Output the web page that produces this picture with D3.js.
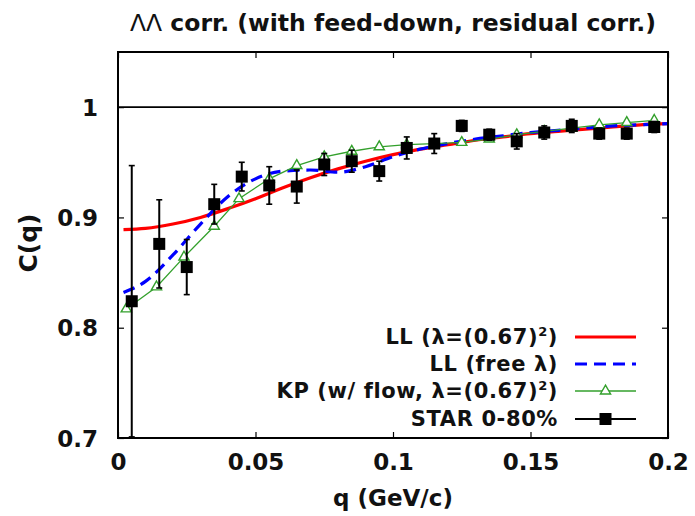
<!DOCTYPE html>
<html><head><meta charset="utf-8">
<script src="https://cdn.jsdelivr.net/npm/d3@7"></script>
<style>
body{margin:0;background:#fff;}
svg text{font-family:"DejaVu Sans",sans-serif;font-weight:bold;fill:#111;}
</style></head>
<body><svg id="c" width="695" height="516"></svg>
<script>
// ---- data ----
const starQ   = [0.005,0.015,0.025,0.035,0.045,0.055,0.065,0.075,0.085,0.095,0.105,0.115,0.125,0.135,0.145,0.155,0.165,0.175,0.185,0.195];
const starC   = [0.824,0.876,0.855,0.912,0.937,0.929,0.928,0.948,0.951,0.942,0.963,0.967,0.983,0.975,0.969,0.977,0.983,0.976,0.976,0.982];
const starErr = [0.123,0.040,0.025,0.018,0.013,0.017,0.015,0.010,0.010,0.009,0.010,0.009,0.005,0.005,0.007,0.006,0.006,0.005,0.005,0.005];

const curveQ  = [0.002,0.01,0.02,0.03,0.04,0.05,0.06,0.07,0.08,0.09,0.10,0.11,0.12,0.13,0.14,0.15,0.16,0.17,0.18,0.19,0.20];
const llFixed = [0.889,0.890,0.894,0.900,0.908,0.917,0.927,0.936,0.944,0.951,0.957,0.962,0.966,0.970,0.973,0.976,0.978,0.980,0.982,0.984,0.985];
const llFree  = [0.832,0.842,0.866,0.894,0.919,0.935,0.942,0.943,0.941,0.946,0.955,0.962,0.967,0.971,0.974,0.977,0.979,0.981,0.983,0.984,0.985];

const kpQ = [0.003,0.014,0.024,0.035,0.044,0.055,0.065,0.075,0.085,0.095,0.105,0.115,0.125,0.135,0.145,0.155,0.165,0.175,0.185,0.195];
const kpC = [0.817,0.837,0.864,0.892,0.917,0.935,0.947,0.955,0.960,0.964,0.966,0.967,0.968,0.971,0.975,0.978,0.981,0.984,0.986,0.988];

const xTicks = [0,0.05,0.1,0.15,0.2];
const xTickLabels = ["0","0.05","0.1","0.15","0.2"];
const yTicks = [0.7,0.8,0.9,1];
const yTickLabels = ["0.7","0.8","0.9","1"];

const titleMain = " corr. (with feed-down, residual corr.)";
const legendLabels = ["LL (λ=(0.67)", "LL (free λ)", "KP (w/ flow, λ=(0.67)", "STAR 0-80%"];

// ---- layout ----
const L=118,R=668,T=52,B=438;
const x=d3.scaleLinear().domain([0,0.2]).range([L,R]);
const y=d3.scaleLinear().domain([0.7,1.05]).range([B,T]);
const svg=d3.select("#c");

svg.append("defs").append("clipPath").attr("id","clip")
  .append("rect").attr("x",L).attr("y",T).attr("width",R-L).attr("height",B-T);

// y=1 line
svg.append("line").attr("x1",L).attr("x2",R).attr("y1",y(1)).attr("y2",y(1))
  .attr("stroke","#000").attr("stroke-width",1.6);

// axes (ticks inward on all sides)
const tl=6, fs=23;
const gx=svg.append("g").attr("transform",`translate(0,${B})`)
  .call(d3.axisBottom(x).tickValues(xTicks).tickSize(-tl).tickPadding(16).tickFormat((d,i)=>xTickLabels[i]));
const gxt=svg.append("g").attr("transform",`translate(0,${T})`)
  .call(d3.axisTop(x).tickValues(xTicks).tickSize(-tl).tickFormat(""));
const gy=svg.append("g").attr("transform",`translate(${L},0)`)
  .call(d3.axisLeft(y).tickValues(yTicks).tickSize(-tl).tickPadding(20).tickFormat((d,i)=>yTickLabels[i]));
const gyr=svg.append("g").attr("transform",`translate(${R},0)`)
  .call(d3.axisRight(y).tickValues(yTicks).tickSize(-tl).tickFormat(""));
[gx,gxt,gy,gyr].forEach(g=>{g.select(".domain").remove();g.selectAll("line").attr("stroke","#000").attr("stroke-width",1.2);
  g.selectAll("text").attr("font-size",fs).attr("font-family","DejaVu Sans").attr("font-weight","bold").attr("fill","#111");});
gy.selectAll("text").attr("dy","0.36em");

const plot=svg.append("g").attr("clip-path","url(#clip)");

const line=d3.line().x(d=>x(d[0])).y(d=>y(d[1])).curve(d3.curveMonotoneX);
// red
plot.append("path").datum(curveQ.map((q,i)=>[q,llFixed[i]])).attr("d",line)
  .attr("fill","none").attr("stroke","#f00").attr("stroke-width",3.2);
// blue dashed
plot.append("path").datum(curveQ.map((q,i)=>[q,llFree[i]])).attr("d",line)
  .attr("fill","none").attr("stroke","#0000ff").attr("stroke-width",3.2).attr("stroke-dasharray","12,7");
// green KP
const green="#33a02c";
plot.append("path").datum(kpQ.map((q,i)=>[q,kpC[i]])).attr("d",d3.line().x(d=>x(d[0])).y(d=>y(d[1])))
  .attr("fill","none").attr("stroke",green).attr("stroke-width",1.3);
const tri=d3.symbol().type(d3.symbolTriangle).size(45);
plot.selectAll(".tri").data(kpQ.map((q,i)=>[q,kpC[i]])).join("path")
  .attr("transform",d=>`translate(${x(d[0])},${y(d[1])})`).attr("d",tri)
  .attr("fill","#fff").attr("stroke",green).attr("stroke-width",1.4);

// STAR data
const pts=starQ.map((q,i)=>({q,c:starC[i],e:starErr[i]}));
const eb=plot.selectAll(".eb").data(pts).join("g");
eb.append("line").attr("x1",d=>x(d.q)).attr("x2",d=>x(d.q)).attr("y1",d=>y(d.c-d.e)).attr("y2",d=>y(d.c+d.e))
  .attr("stroke","#000").attr("stroke-width",2);
eb.append("line").attr("x1",d=>x(d.q)-3).attr("x2",d=>x(d.q)+3).attr("y1",d=>y(d.c+d.e)).attr("y2",d=>y(d.c+d.e))
  .attr("stroke","#000").attr("stroke-width",1.6);
eb.append("line").attr("x1",d=>x(d.q)-3).attr("x2",d=>x(d.q)+3).attr("y1",d=>y(d.c-d.e)).attr("y2",d=>y(d.c-d.e))
  .attr("stroke","#000").attr("stroke-width",1.6);
eb.append("rect").attr("x",d=>x(d.q)-6).attr("y",d=>y(d.c)-6).attr("width",12).attr("height",12).attr("fill","#000");

// frame
svg.append("rect").attr("x",L).attr("y",T).attr("width",R-L).attr("height",B-T)
  .attr("fill","none").attr("stroke","#000").attr("stroke-width",2);

// title
const tt=svg.append("text").attr("x",393).attr("y",31).attr("text-anchor","middle").attr("font-size",23.5);
tt.append("tspan").attr("font-weight","normal").text("ΛΛ");
tt.append("tspan").text(titleMain);

// axis titles
svg.append("text").attr("x",393).attr("y",506).attr("text-anchor","middle").attr("font-size",fs).text("q (GeV/c)");
svg.append("text").attr("transform","translate(37,243) rotate(-90)").attr("text-anchor","middle").attr("font-size",25).text("C(q)");

// legend
const legY=[337,364,391,419];
const lx1=575,lx2=636,tx=558;
legendLabels.forEach((lab,i)=>{
  const t=svg.append("text").attr("x",tx).attr("y",legY[i]+7).attr("text-anchor","end")
    .attr("font-size",21).attr("letter-spacing",0.6);
  t.append("tspan").text(lab);
  if(i===0||i===2){
    t.append("tspan").attr("dy",-8).attr("font-size",13).text("2");
    t.append("tspan").attr("dy",8).text(")");
  }
});
svg.append("line").attr("x1",lx1).attr("x2",lx2).attr("y1",legY[0]).attr("y2",legY[0]).attr("stroke","#f00").attr("stroke-width",3.2);
svg.append("line").attr("x1",lx1).attr("x2",lx2).attr("y1",legY[1]).attr("y2",legY[1]).attr("stroke","#0000ff").attr("stroke-width",3.2).attr("stroke-dasharray","12,7");
svg.append("line").attr("x1",lx1).attr("x2",lx2).attr("y1",legY[2]).attr("y2",legY[2]).attr("stroke",green).attr("stroke-width",1.3);
svg.append("path").attr("transform",`translate(${(lx1+lx2)/2},${legY[2]})`).attr("d",tri).attr("fill","#fff").attr("stroke",green).attr("stroke-width",1.4);
svg.append("line").attr("x1",lx1).attr("x2",lx2).attr("y1",legY[3]).attr("y2",legY[3]).attr("stroke","#000").attr("stroke-width",2);
svg.append("rect").attr("x",(lx1+lx2)/2-6).attr("y",legY[3]-6).attr("width",12).attr("height",12).attr("fill","#000");
</script></body></html>
